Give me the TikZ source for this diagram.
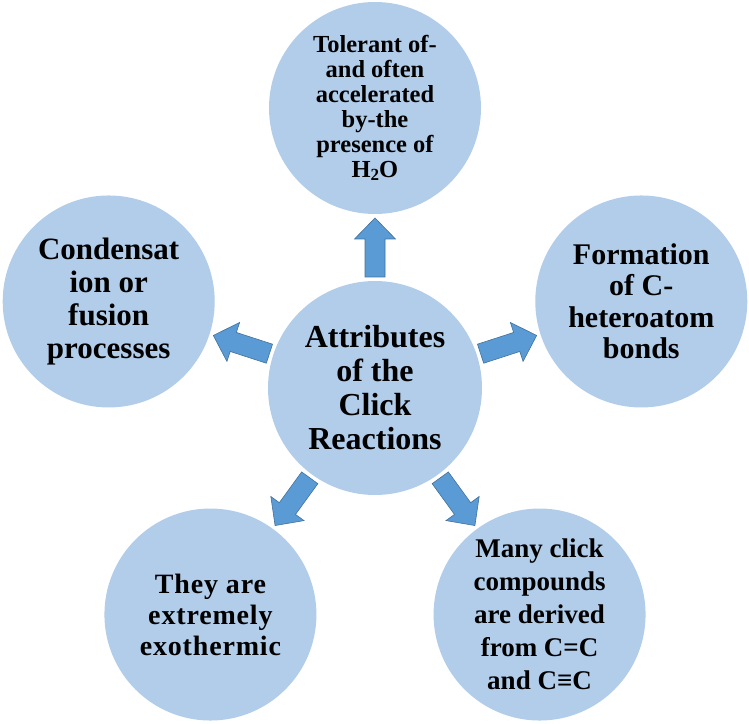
\documentclass[tikz,border=0pt]{standalone}
\usepackage{fontspec}
\setmainfont{Liberation Serif}
\definecolor{circfill}{RGB}{177,205,234}
\definecolor{arrfill}{RGB}{91,155,213}
\definecolor{arrline}{RGB}{65,113,156}
\begin{document}
\begin{tikzpicture}[x=1pt,y=1pt,
  bubble/.style={circle, fill=circfill, inner sep=0pt, minimum size=212pt, align=center},
  blockarrow/.pic={
    \filldraw[fill=arrfill, draw=arrline, line width=0.6pt, line join=miter]
      (0,-10) -- (38,-10) -- (38,-20.5) -- (59,0) -- (38,20.5) -- (38,10) -- (0,10) -- cycle;
  }]
\useasboundingbox (-375,-335) rectangle (374,388);

\node[bubble, minimum size=214pt, font={\bfseries\fontsize{32}{34}\selectfont}] (c) at (0,0)
  {Attributes\\of the\\Click\\Reactions};

\node[bubble, font={\bfseries\fontsize{24.5}{25}\selectfont}] (t) at (90:280)
  {Tolerant of-\\and often\\accelerated\\by-the\\presence of\\H\raisebox{-0.12em}{\fontsize{17}{17}\selectfont 2}O};

\node[bubble, font={\bfseries\fontsize{30}{31.5}\selectfont}] (r) at (18:280)
  {Formation\\of C-\\heteroatom\\bonds};

\node[bubble, font={\bfseries\fontsize{27}{33}\selectfont}] (br) at (-54:280)
  {Many click\\compounds\\are derived\\from C=C\\and C≡C};

\node[bubble, font={\bfseries\fontsize{28}{31}\selectfont\addfontfeatures{LetterSpace=3}}] (bl) at (-126:280)
  {They are\\extremely\\exothermic};

\node[bubble, font={\bfseries\fontsize{31}{33}\selectfont}] (l) at (162:280)
  {Condensat\\ion or\\fusion\\processes};

\foreach \a in {90,18,-54,-126,162}
  \path (c.center) ++(\a:111) pic[rotate=\a] {blockarrow};
\end{tikzpicture}
\end{document}
